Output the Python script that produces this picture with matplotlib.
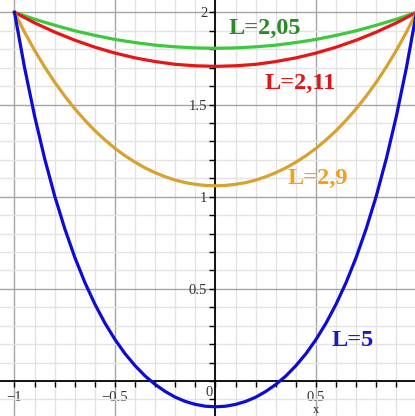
import matplotlib
matplotlib.use("Agg")
import matplotlib.pyplot as plt
from matplotlib.ticker import MultipleLocator, FixedLocator

# ---- data ----
x_coarse = [-1.0, -0.9, -0.8, -0.7, -0.6, -0.5, -0.4, -0.3, -0.2, -0.1, 0.0,
            0.1, 0.2, 0.3, 0.4, 0.5, 0.6, 0.7, 0.8, 0.9, 1.0]
y_L205 = [2.000, 1.963, 1.930, 1.900, 1.875, 1.853, 1.836, 1.822, 1.813, 1.807, 1.805,
          1.807, 1.813, 1.822, 1.836, 1.853, 1.875, 1.900, 1.930, 1.963, 2.000]
y_L211 = [2.000, 1.943, 1.893, 1.849, 1.811, 1.779, 1.753, 1.733, 1.718, 1.710, 1.707,
          1.710, 1.718, 1.733, 1.753, 1.779, 1.811, 1.849, 1.893, 1.943, 2.000]

x_fine = [-1.0, -0.95, -0.9, -0.85, -0.8, -0.75, -0.7, -0.65, -0.6, -0.55, -0.5,
          -0.45, -0.4, -0.35, -0.3, -0.25, -0.2, -0.15, -0.1, -0.05, 0.0,
          0.05, 0.1, 0.15, 0.2, 0.25, 0.3, 0.35, 0.4, 0.45, 0.5,
          0.55, 0.6, 0.65, 0.7, 0.75, 0.8, 0.85, 0.9, 0.95, 1.0]
y_L29 = [2.000, 1.893, 1.794, 1.704, 1.621, 1.546, 1.477, 1.415, 1.358, 1.308, 1.262,
         1.222, 1.187, 1.156, 1.130, 1.108, 1.090, 1.076, 1.067, 1.061, 1.059,
         1.061, 1.067, 1.076, 1.090, 1.108, 1.130, 1.156, 1.187, 1.222, 1.262,
         1.308, 1.358, 1.415, 1.477, 1.546, 1.621, 1.704, 1.794, 1.893, 2.000]
y_L5 = [2.000, 1.701, 1.438, 1.207, 1.004, 0.827, 0.671, 0.535, 0.417, 0.314, 0.225,
        0.148, 0.083, 0.027, -0.019, -0.057, -0.088, -0.111, -0.127, -0.137, -0.140,
        -0.137, -0.127, -0.111, -0.088, -0.057, -0.019, 0.027, 0.083, 0.148, 0.225,
        0.314, 0.417, 0.535, 0.671, 0.827, 1.004, 1.207, 1.438, 1.701, 2.000]

x_ticks = [-1, -0.5, 0.5]
x_ticklabels = ["\u22121", "\u22120.5", "0.5"]
y_ticks = [0.5, 1, 1.5, 2]
y_ticklabels = ["0.5", "1", "1.5", "2"]

labels = ["L=2,05", "L=2,11", "L=2,9", "L=5"]

# ---- figure ----
W, H, DPI = 415, 416, 100
fig = plt.figure(figsize=(W / DPI, H / DPI), dpi=DPI)
ax = fig.add_axes([0, 0, 1, 1])
ax.set_xlim(-1.072, 0.9925)
ax.set_ylim(-0.19, 2.067)

serif = ["Liberation Serif", "DejaVu Serif"]

# grid
ax.set_axisbelow(True)
ax.xaxis.set_major_locator(FixedLocator(x_ticks))
ax.yaxis.set_major_locator(FixedLocator(y_ticks))
ax.xaxis.set_minor_locator(MultipleLocator(0.1))
ax.yaxis.set_minor_locator(MultipleLocator(0.1))
ax.grid(which="minor", color="#e3e3e3", lw=1.0)
ax.grid(which="major", color="#a5a5a5", lw=1.0)

# axes through origin
for s in ["top", "right"]:
    ax.spines[s].set_visible(False)
ax.spines["left"].set_position(("data", 0))
ax.spines["bottom"].set_position(("data", 0))
ax.spines["left"].set_linewidth(1.3)
ax.spines["bottom"].set_linewidth(1.3)
ax.tick_params(which="both", direction="out", length=4, width=1, color="black")
ax.tick_params(axis="x", which="major", pad=3)
ax.tick_params(axis="y", which="major", pad=2)
ax.set_xticklabels(x_ticklabels, family=serif, fontsize=10.5, color="#333333")
ax.set_yticklabels(y_ticklabels, family=serif, fontsize=10.5, color="#333333")

ax.text(-0.032, -0.065, "0", family=serif, fontsize=10.5, color="#333333",
        ha="center", va="center")
ax.text(0.5, -0.158, "x", family=serif, fontsize=9, color="#333333",
        ha="center", va="center")

# curves
ax.plot(x_coarse, y_L205, color="#3ec83e", lw=2.3, zorder=4)
ax.plot(x_coarse, y_L211, color="#e81515", lw=2.3, zorder=4)
ax.plot(x_fine, y_L29, color="#d6a230", lw=2.3, zorder=4)
ax.plot(x_fine, y_L5, color="#0c0cd2", lw=2.3, zorder=4)

# curve labels
fs = 17.5
ax.text(0.246, 1.914, labels[0], family=serif, fontweight="bold", fontsize=fs,
        color="#2a8a2a", ha="center", va="center", zorder=5)
ax.text(0.42, 1.616, labels[1], family=serif, fontweight="bold", fontsize=fs,
        color="#e01515", ha="center", va="center", zorder=5)
ax.text(0.51, 1.10, labels[2], family=serif, fontweight="bold", fontsize=fs,
        color="#f2a020", ha="center", va="center", zorder=5)
ax.text(0.684, 0.222, labels[3], family=serif, fontweight="bold", fontsize=fs,
        color="#1a1acc", ha="center", va="center", zorder=5)

fig.savefig("out.png", dpi=DPI)
